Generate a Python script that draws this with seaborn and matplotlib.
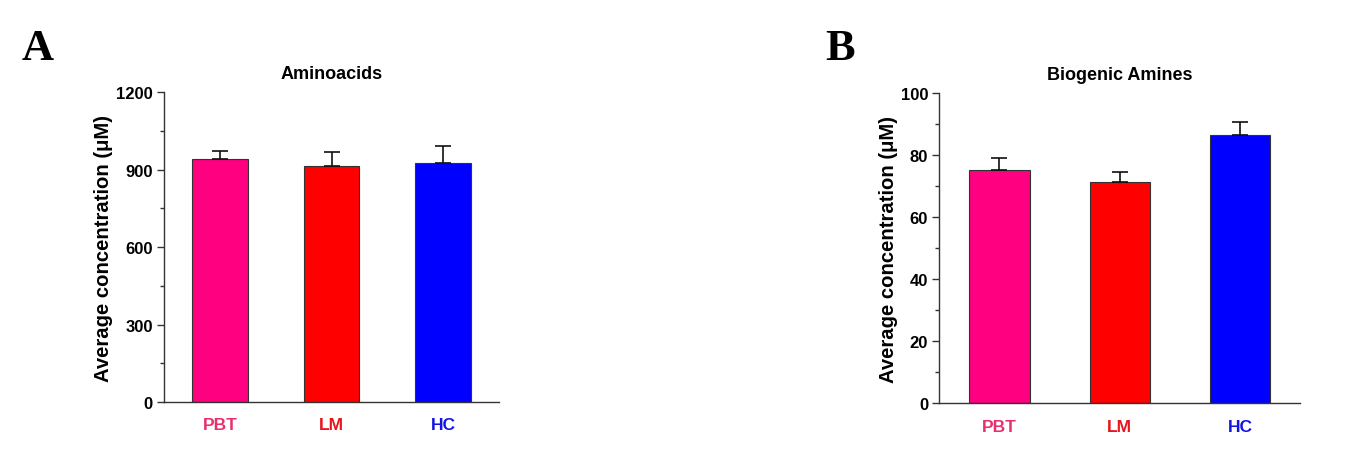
import matplotlib
matplotlib.use('Agg')
import matplotlib.pyplot as plt
from matplotlib.ticker import MultipleLocator
import seaborn as sns
import pandas as pd

groups = ['PBT', 'LM', 'HC']
bar_colors = ['#ff0080', '#ff0000', '#0000ff']
label_colors = ['#e8306f', '#e8141e', '#1414e0']

amino_mean = [940, 912, 925]
amino_err = [30, 57, 66]

amine_mean = [75.1, 71.2, 86.5]
amine_err = [4.0, 3.3, 4.1]

sns.set_style('white')
plt.rcParams['font.family'] = ['Liberation Sans', 'DejaVu Sans']
plt.rcParams['font.weight'] = 'bold'
plt.rcParams['text.color'] = 'black'
plt.rcParams['axes.labelcolor'] = 'black'
plt.rcParams['xtick.color'] = 'black'
plt.rcParams['ytick.color'] = 'black'

fig = plt.figure(figsize=(13.59, 4.52), dpi=100)
ax_a = fig.add_axes([0.1207, 0.1084, 0.2465, 0.6858])
ax_b = fig.add_axes([0.6912, 0.1055, 0.2654, 0.6872])


def draw_panel(ax, means, errs, title, ymax, major, minor):
    df = pd.DataFrame({'group': groups, 'value': means})
    sns.barplot(data=df, x='group', y='value', hue='group', palette=bar_colors,
                saturation=1, width=0.5, edgecolor='#333333', linewidth=0.8,
                legend=False, errorbar=None, ax=ax)
    ax.errorbar(range(len(groups)), means, yerr=[[0] * len(errs), errs],
                fmt='none', ecolor='#111111', elinewidth=1.2, capsize=6, capthick=1.2)
    ax.set_xlim(-0.5, 2.5)
    ax.set_ylim(0, ymax)
    ax.yaxis.set_major_locator(MultipleLocator(major))
    ax.yaxis.set_minor_locator(MultipleLocator(minor))
    ax.tick_params(axis='y', which='major', direction='out', length=5, width=1,
                   left=True, labelsize=12, pad=3, color='#333333')
    ax.tick_params(axis='y', which='minor', direction='out', length=3, width=1,
                   left=True, color='#333333')
    ax.tick_params(axis='x', length=0, labelsize=12.5, pad=11)
    for lab, c in zip(ax.get_xticklabels(), label_colors):
        lab.set_color(c)
        lab.set_fontweight('bold')
    for lab in ax.get_yticklabels():
        lab.set_fontweight('bold')
    for s in ['top', 'right']:
        ax.spines[s].set_visible(False)
    for s in ['left', 'bottom']:
        ax.spines[s].set_color('#333333')
        ax.spines[s].set_linewidth(1.0)
    ax.set_xlabel('')
    ax.set_ylabel('Average concentration (\u03bcM)', fontsize=14.6, fontweight='bold', labelpad=2)
    ax.set_title(title, fontsize=13, fontweight='bold', pad=10)


draw_panel(ax_a, amino_mean, amino_err, 'Aminoacids', 1200, 300, 150)
draw_panel(ax_b, amine_mean, amine_err, 'Biogenic Amines', 100, 20, 10)

fig.text(0.016, 0.868, 'A', fontsize=32, fontweight='bold', color='black',
         family=['Liberation Serif', 'DejaVu Serif'])
fig.text(0.607, 0.868, 'B', fontsize=32, fontweight='bold', color='black',
         family=['Liberation Serif', 'DejaVu Serif'])

fig.savefig('out.png', dpi=100, facecolor='white')
